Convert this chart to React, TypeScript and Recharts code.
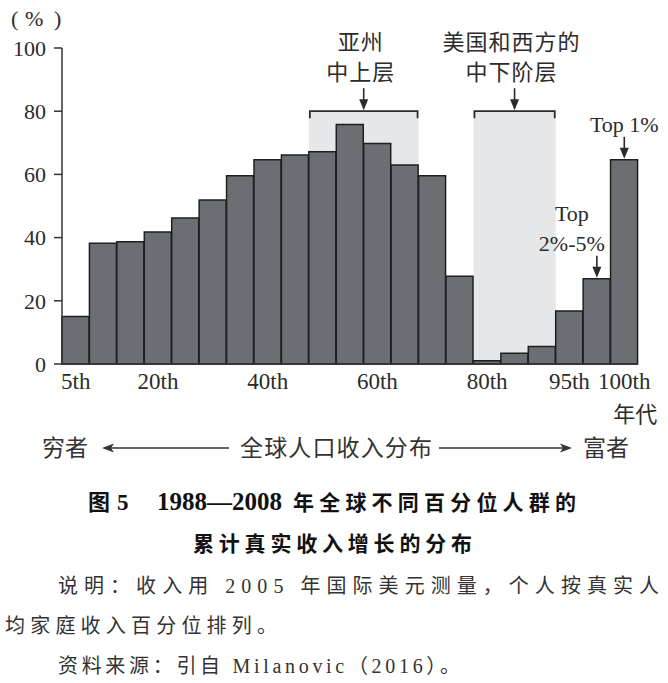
import { BarChart, Bar, XAxis, YAxis, ReferenceArea, ReferenceDot } from 'recharts';

// 全球收入百分位（每 5 个百分位一组，最后两组为 Top 2%-5% 与 Top 1%）
const percentiles = [
  '5th', '10th', '15th', '20th', '25th', '30th', '35th', '40th', '45th', '50th',
  '55th', '60th', '65th', '70th', '75th', '80th', '85th', '90th', '95th', '99th', '100th',
];
// 1988—2008 年累计真实收入增长（%）
const growth = [
  15.0, 38.2, 38.7, 41.8, 46.2, 51.9, 59.6, 64.6, 66.1, 67.2,
  75.8, 69.8, 63.0, 59.6, 27.8, 1.0, 3.4, 5.5, 16.8, 27.0, 64.6,
];
const shownTicks = ['5th', '20th', '40th', '60th', '80th', '95th', '100th'];
const yTicks = [0, 20, 40, 60, 80, 100];

const asiaBand = ['50th', '65th'];
const asiaLabel = ['亚州', '中上层'];
const westBand = ['80th', '90th'];
const westLabel = ['美国和西方的', '中下阶层'];
const bracketLevel = 80;

const top1Label = ['Top 1%'];
const top25Label = ['Top', '2%-5%'];

const chartData = percentiles.map((p, i) => ({ p, growth: growth[i] }));

const SERIF = '"Liberation Serif", "Noto Sans CJK SC", serif';
const CJK = '"Noto Sans CJK SC", sans-serif';
const INK = '#2b2b2b';

function Arrow({ x, y1, y2 }: { x: number; y1: number; y2: number }) {
  return (
    <g>
      <line x1={x} y1={y1} x2={x} y2={y2 - 8} stroke={INK} strokeWidth={1.6} />
      <path d={`M${x - 4.5},${y2 - 11} L${x + 4.5},${y2 - 11} L${x},${y2} Z`} fill={INK} />
    </g>
  );
}

function BracketShape(props: any) {
  const { x, y, width, height, lines } = props;
  const cx = x + width / 2;
  return (
    <g>
      <rect x={x} y={y} width={width} height={height} fill="#e6e7e9" />
      <path
        d={`M${x + 1},${y + 7} L${x + 1},${y} L${x + width - 1},${y} L${x + width - 1},${y + 7}`}
        fill="none"
        stroke={INK}
        strokeWidth={1.8}
      />
      <Arrow x={cx} y1={y - 23} y2={y - 1} />
      {lines.map((t: string, i: number) => (
        <text
          key={t}
          x={cx - 3}
          y={y - 61 + i * 30}
          textAnchor="middle"
          fontFamily={CJK}
          fontSize={22}
          letterSpacing={1}
          fill={INK}
        >
          {t}
        </text>
      ))}
    </g>
  );
}

function TopShape(props: any) {
  const { cx, cy, lines, dx } = props;
  const n = lines.length;
  return (
    <g>
      <Arrow x={cx} y1={cy - 23} y2={cy - 1} />
      {lines.map((t: string, i: number) => (
        <text
          key={t}
          x={cx + dx}
          y={cy - 28 - (n - 1 - i) * 30}
          textAnchor="middle"
          fontFamily={SERIF}
          fontSize={22}
          fill={INK}
        >
          {t}
        </text>
      ))}
    </g>
  );
}

function XTick(props: any) {
  const { x, y, payload } = props;
  if (!shownTicks.includes(payload.value)) return <g />;
  return (
    <g>
      <text x={x} y={y + 25} textAnchor="middle" fontFamily={SERIF} fontSize={23} fill={INK}>
        {payload.value}
      </text>
      {payload.value === '100th' && (
        <text x={x + 11} y={y + 58} textAnchor="middle" fontFamily={CJK} fontSize={22} fill={INK}>
          年代
        </text>
      )}
    </g>
  );
}

export default function App() {
  return (
    <div style={{ position: 'absolute', left: 0, top: 0, width: 668, height: 683, background: '#fff' }}>
      <svg width={80} height={34} style={{ position: 'absolute', left: 0, top: 0 }}>
        <text y={26} fontFamily={SERIF} fontSize={22} fill={INK}>
          <tspan x={11}>(</tspan>
          <tspan x={25}>%</tspan>
          <tspan x={54}>)</tspan>
        </text>
      </svg>
      <BarChart
        width={668}
        height={430}
        data={chartData}
        margin={{ top: 48, right: 30, left: 0, bottom: 0 }}
        barCategoryGap={0}
        barGap={0}
      >
        <XAxis
          dataKey="p"
          interval={0}
          height={66}
          tickLine={false}
          tickSize={0}
          tickMargin={0}
          axisLine={{ stroke: '#333', strokeWidth: 1.5 }}
          tick={<XTick />}
        />
        <YAxis
          width={62}
          domain={[0, 100]}
          ticks={yTicks}
          tickSize={8}
          tickMargin={8}
          axisLine={{ stroke: '#333', strokeWidth: 1.5 }}
          tickLine={{ stroke: '#333', strokeWidth: 1.5 }}
          tick={{ fill: INK, fontSize: 22, fontFamily: SERIF }}
        />
        <ReferenceArea
          x1={asiaBand[0]}
          x2={asiaBand[1]}
          y1={0}
          y2={bracketLevel}
          shape={(p: any) => <BracketShape {...p} lines={asiaLabel} />}
        />
        <ReferenceArea
          x1={westBand[0]}
          x2={westBand[1]}
          y1={0}
          y2={bracketLevel}
          shape={(p: any) => <BracketShape {...p} lines={westLabel} />}
        />
        <Bar dataKey="growth" fill="#6b6e72" stroke="#1f1f1f" strokeWidth={1.5} isAnimationActive={false} />
        <ReferenceDot
          x={percentiles[20]}
          y={growth[20]}
          r={0}
          shape={(p: any) => <TopShape {...p} lines={top1Label} dx={0} />}
        />
        <ReferenceDot
          x={percentiles[19]}
          y={growth[19]}
          r={0}
          shape={(p: any) => <TopShape {...p} lines={top25Label} dx={-25} />}
        />
      </BarChart>
      <svg
        width={668}
        height={253}
        style={{ position: 'absolute', left: 0, top: 430 }}
      >
        <g fill="#333" fontFamily={CJK} fontSize={23}>
          <text x={42} y={26}>穷者</text>
          <text x={240} y={26} textLength={192} lengthAdjust="spacing">全球人口收入分布</text>
          <text x={583} y={26}>富者</text>
        </g>
        <line x1={110} y1={18} x2={229} y2={18} stroke="#333" strokeWidth={1.6} />
        <path d="M102,18 L114,13.5 L111,18 L114,22.5 Z" fill="#333" />
        <line x1={439} y1={18} x2={564} y2={18} stroke="#333" strokeWidth={1.6} />
        <path d="M572,18 L560,13.5 L563,18 L560,22.5 Z" fill="#333" />

        <g fill="#111" fontWeight="bold">
          <text x={88} y={80} fontFamily={CJK} fontSize={22}>图</text>
          <text x={117} y={80} fontFamily={SERIF} fontSize={23}>5</text>
          <text x={157} y={80} fontFamily={SERIF} fontSize={25} textLength={125} lengthAdjust="spacingAndGlyphs">1988—2008</text>
          <text x={293} y={80} fontFamily={CJK} fontSize={21} textLength={283} lengthAdjust="spacing">年全球不同百分位人群的</text>
          <text x={193} y={121} fontFamily={CJK} fontSize={21} textLength={279} lengthAdjust="spacing">累计真实收入增长的分布</text>
        </g>

        <g fill="#333" fontFamily={SERIF} fontSize={20}>
          <text x={58} y={163} textLength={601} lengthAdjust="spacing">说明：收入用 2005 年国际美元测量，个人按真实人</text>
          <text x={5} y={203} textLength={272} lengthAdjust="spacing">均家庭收入百分位排列。</text>
          <text x={58} y={243} textLength={402} lengthAdjust="spacing">资料来源：引自 Milanovic（2016）。</text>
        </g>
      </svg>
    </div>
  );
}
